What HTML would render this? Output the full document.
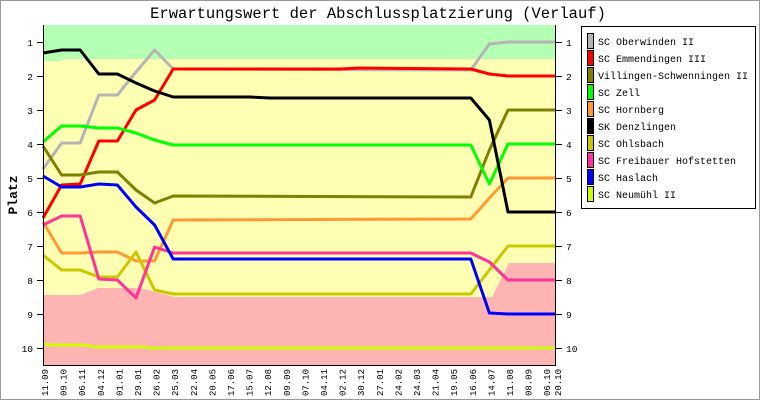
<!DOCTYPE html>
<html><head><meta charset="utf-8"><style>
body{margin:0;background:#fff}
svg{display:block;font-family:"Liberation Mono",monospace}
</style></head><body>
<svg width="760" height="400" viewBox="0 0 760 400" xmlns="http://www.w3.org/2000/svg">
<rect x="0.5" y="0.5" width="759" height="399" fill="#fff" stroke="#999"/>
<text x="378" y="18" font-size="15.5" text-anchor="middle" fill="#000">Erwartungswert der Abschlussplatzierung (Verlauf)</text>
<rect x="43" y="25" width="513" height="340" fill="#ffffb4"/>
<polygon points="43,25 556,25 556,59 62,59 62,61 43,61" fill="#b4ffb4"/>
<polygon points="43,295 80,295 98,288 140,288 175,297 492,297 509,263 556,263 556,365 43,365" fill="#ffb4b4"/>
<g fill="none" stroke-width="3" stroke-linejoin="round">
<polyline stroke="#b4b4b4" points="43,169 61.6,143 80.2,143 98.8,95 117.4,95 136,72 154.6,50 173.2,69 470.8,70 489.4,44 508,42 556,42"/>
<polyline stroke="#ff0000" points="43,218 61.6,185 80.2,184 98.8,141 117.4,141 136,110 154.6,100 173.2,69 340,69 360,68 470.8,69 489.4,74 508,76 556,76"/>
<polyline stroke="#808000" points="43,146 61.6,175 80.2,175 98.8,172 117.4,172 136,190 154.6,203 173.2,196 470.8,197 489.4,150 508,110 556,110"/>
<polyline stroke="#00ff00" points="43,142 61.6,126 80.2,126 98.8,128 117.4,128 136,133 154.6,140 173.2,145 470.8,145 489.4,184 508,144 556,144"/>
<polyline stroke="#ff9933" points="43,222 61.6,253 80.2,253 98.8,252 117.4,252 136,261 154.6,261 173.2,220 470.8,219 489.4,198 508,178 556,178"/>
<polyline stroke="#000000" points="43,53 61.6,50 80.2,50 98.8,74 117.4,74 136,83 154.6,91 173.2,97 250,97 270,98 470.8,98 489.4,120 508,212 556,212"/>
<polyline stroke="#c8c800" points="43,255 61.6,270 80.2,270 98.8,277 117.4,277 136,252 154.6,290 173.2,294 470.8,294 489.4,270 508,246 556,246"/>
<polyline stroke="#ff3399" points="43,225 61.6,216 80.2,216 98.8,279 117.4,280 136,298 154.6,247 173.2,253 470.8,253 489.4,262 508,280 556,280"/>
<polyline stroke="#0000ff" points="43,176 61.6,187 80.2,187 98.8,184 117.4,185 136,207 154.6,225 173.2,259 470.8,259 489.4,313 508,314 556,314"/>
<polyline stroke="#ccff00" points="43,344 52,345 85,345 95,347 145,347 148,348 556,348"/>
</g>
<g stroke="#000" stroke-width="1">
<line x1="43.5" y1="25" x2="43.5" y2="365"/>
<line x1="555.5" y1="25" x2="555.5" y2="365"/>
<line x1="43" y1="365.5" x2="556" y2="365.5"/>
<path d="M37 42.5h6M37 76.5h6M37 110.5h6M37 144.5h6M37 178.5h6M37 212.5h6M37 246.5h6M37 280.5h6M37 314.5h6M37 348.5h6M556 42.5h6M556 76.5h6M556 110.5h6M556 144.5h6M556 178.5h6M556 212.5h6M556 246.5h6M556 280.5h6M556 314.5h6M556 348.5h6"/>
</g>
<g font-size="9.5" fill="#000">
<g text-anchor="end">
<text x="33" y="46">1</text><text x="33" y="80">2</text><text x="33" y="114">3</text><text x="33" y="148">4</text><text x="33" y="182">5</text><text x="33" y="216">6</text><text x="33" y="250">7</text><text x="33" y="284">8</text><text x="33" y="318">9</text><text x="33" y="352">10</text>
</g>
<text x="566" y="46">1</text><text x="566" y="80">2</text><text x="566" y="114">3</text><text x="566" y="148">4</text><text x="566" y="182">5</text><text x="566" y="216">6</text><text x="566" y="250">7</text><text x="566" y="284">8</text><text x="566" y="318">9</text><text x="566" y="352">10</text>
</g>
<text transform="translate(17,195) rotate(-90)" font-size="13" font-weight="bold" text-anchor="middle">Platz</text>
<g font-size="9" text-anchor="end">
<text transform="translate(48,369) rotate(-90)">11.09</text>
<text transform="translate(66.6,369) rotate(-90)">09.10</text>
<text transform="translate(85.2,369) rotate(-90)">06.11</text>
<text transform="translate(103.8,369) rotate(-90)">04.12</text>
<text transform="translate(122.4,369) rotate(-90)">01.01</text>
<text transform="translate(141,369) rotate(-90)">29.01</text>
<text transform="translate(159.6,369) rotate(-90)">26.02</text>
<text transform="translate(178.2,369) rotate(-90)">25.03</text>
<text transform="translate(196.8,369) rotate(-90)">22.04</text>
<text transform="translate(215.4,369) rotate(-90)">20.05</text>
<text transform="translate(234,369) rotate(-90)">17.06</text>
<text transform="translate(252.6,369) rotate(-90)">15.07</text>
<text transform="translate(271.2,369) rotate(-90)">12.08</text>
<text transform="translate(289.8,369) rotate(-90)">09.09</text>
<text transform="translate(308.4,369) rotate(-90)">07.10</text>
<text transform="translate(327,369) rotate(-90)">04.11</text>
<text transform="translate(345.6,369) rotate(-90)">02.12</text>
<text transform="translate(364.2,369) rotate(-90)">30.12</text>
<text transform="translate(382.8,369) rotate(-90)">27.01</text>
<text transform="translate(401.4,369) rotate(-90)">24.02</text>
<text transform="translate(420,369) rotate(-90)">24.03</text>
<text transform="translate(438.6,369) rotate(-90)">21.04</text>
<text transform="translate(457.2,369) rotate(-90)">19.05</text>
<text transform="translate(475.8,369) rotate(-90)">16.06</text>
<text transform="translate(494.4,369) rotate(-90)">14.07</text>
<text transform="translate(513,369) rotate(-90)">11.08</text>
<text transform="translate(531.6,369) rotate(-90)">08.09</text>
<text transform="translate(550.2,369) rotate(-90)">06.10</text>
<text transform="translate(561,369) rotate(-90)">20.10</text>
</g>
<rect x="581.5" y="26.5" width="174" height="182" fill="#fff" stroke="#000"/>
<g stroke="#000" stroke-width="1">
<rect x="587.5" y="33.5" width="6" height="15" fill="#b4b4b4"/>
<rect x="587.5" y="50.5" width="6" height="15" fill="#ff0000"/>
<rect x="587.5" y="67.5" width="6" height="15" fill="#808000"/>
<rect x="587.5" y="84.5" width="6" height="15" fill="#00ff00"/>
<rect x="587.5" y="101.5" width="6" height="15" fill="#ff9933"/>
<rect x="587.5" y="118.5" width="6" height="15" fill="#000000"/>
<rect x="587.5" y="135.5" width="6" height="15" fill="#c8c800"/>
<rect x="587.5" y="152.5" width="6" height="15" fill="#ff3399"/>
<rect x="587.5" y="169.5" width="6" height="15" fill="#0000ff"/>
<rect x="587.5" y="186.5" width="6" height="15" fill="#ccff00"/>
</g>
<g font-size="10" fill="#000">
<text x="598" y="45">SC Oberwinden II</text>
<text x="598" y="62">SC Emmendingen III</text>
<text x="598" y="79">Villingen-Schwenningen II</text>
<text x="598" y="96">SC Zell</text>
<text x="598" y="113">SC Hornberg</text>
<text x="598" y="130">SK Denzlingen</text>
<text x="598" y="147">SC Ohlsbach</text>
<text x="598" y="164">SC Freibauer Hofstetten</text>
<text x="598" y="181">SC Haslach</text>
<text x="598" y="198">SC Neumühl II</text>
</g>
</svg>
</body></html>
